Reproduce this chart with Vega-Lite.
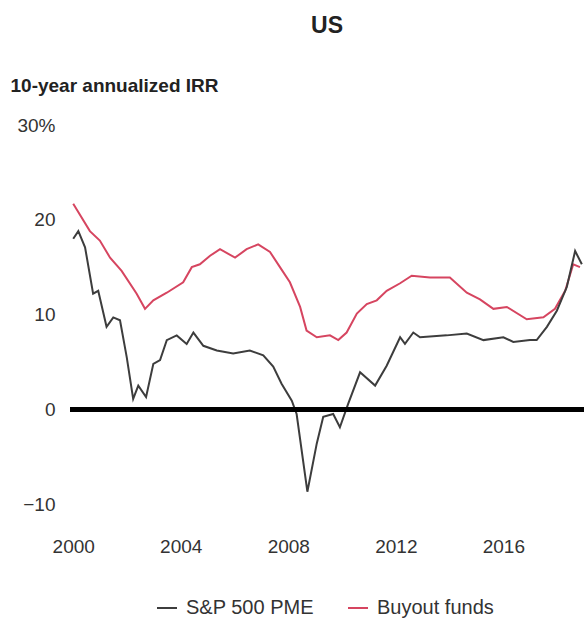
{
  "$schema": "https://vega.github.io/schema/vega-lite/v6.json",
  "width": 514,
  "height": 398,
  "autosize": {"type": "none"},
  "padding": {"left": 70, "top": 125, "right": 0, "bottom": 104},
  "background": "white",
  "title": {"text": "US", "anchor": "middle", "fontSize": 23, "fontWeight": "bold", "font": "Liberation Sans", "color": "#222222", "offset": 38},
  "config": {"view": {"stroke": null}, "font": "Liberation Sans"},
  "data": {"values": [
    {"series": "Buyout funds", "year": 2000.0, "irr": 21.7},
    {"series": "Buyout funds", "year": 2000.62, "irr": 18.8},
    {"series": "Buyout funds", "year": 2000.99, "irr": 17.8},
    {"series": "Buyout funds", "year": 2001.37, "irr": 16.0},
    {"series": "Buyout funds", "year": 2001.8, "irr": 14.6},
    {"series": "Buyout funds", "year": 2002.36, "irr": 12.2},
    {"series": "Buyout funds", "year": 2002.67, "irr": 10.6},
    {"series": "Buyout funds", "year": 2002.98, "irr": 11.5},
    {"series": "Buyout funds", "year": 2003.48, "irr": 12.3},
    {"series": "Buyout funds", "year": 2004.09, "irr": 13.4},
    {"series": "Buyout funds", "year": 2004.41, "irr": 15.0},
    {"series": "Buyout funds", "year": 2004.71, "irr": 15.3},
    {"series": "Buyout funds", "year": 2005.09, "irr": 16.2},
    {"series": "Buyout funds", "year": 2005.46, "irr": 16.9},
    {"series": "Buyout funds", "year": 2006.02, "irr": 16.0},
    {"series": "Buyout funds", "year": 2006.45, "irr": 16.9},
    {"series": "Buyout funds", "year": 2006.88, "irr": 17.4},
    {"series": "Buyout funds", "year": 2007.32, "irr": 16.6},
    {"series": "Buyout funds", "year": 2007.69, "irr": 15.0},
    {"series": "Buyout funds", "year": 2008.06, "irr": 13.4},
    {"series": "Buyout funds", "year": 2008.44, "irr": 10.8},
    {"series": "Buyout funds", "year": 2008.68, "irr": 8.3},
    {"series": "Buyout funds", "year": 2009.06, "irr": 7.6},
    {"series": "Buyout funds", "year": 2009.55, "irr": 7.8},
    {"series": "Buyout funds", "year": 2009.86, "irr": 7.3},
    {"series": "Buyout funds", "year": 2010.17, "irr": 8.1},
    {"series": "Buyout funds", "year": 2010.55, "irr": 10.1},
    {"series": "Buyout funds", "year": 2010.92, "irr": 11.1},
    {"series": "Buyout funds", "year": 2011.29, "irr": 11.5},
    {"series": "Buyout funds", "year": 2011.66, "irr": 12.5},
    {"series": "Buyout funds", "year": 2012.16, "irr": 13.3},
    {"series": "Buyout funds", "year": 2012.59, "irr": 14.1},
    {"series": "Buyout funds", "year": 2013.27, "irr": 13.9},
    {"series": "Buyout funds", "year": 2014.01, "irr": 13.9},
    {"series": "Buyout funds", "year": 2014.64, "irr": 12.3},
    {"series": "Buyout funds", "year": 2015.13, "irr": 11.6},
    {"series": "Buyout funds", "year": 2015.63, "irr": 10.6},
    {"series": "Buyout funds", "year": 2016.13, "irr": 10.8},
    {"series": "Buyout funds", "year": 2016.87, "irr": 9.5},
    {"series": "Buyout funds", "year": 2017.49, "irr": 9.7},
    {"series": "Buyout funds", "year": 2017.92, "irr": 10.6},
    {"series": "Buyout funds", "year": 2018.3, "irr": 12.5},
    {"series": "Buyout funds", "year": 2018.6, "irr": 15.3},
    {"series": "Buyout funds", "year": 2018.85, "irr": 15.0},
    {"series": "S&P 500 PME", "year": 2000.0, "irr": 18.0},
    {"series": "S&P 500 PME", "year": 2000.19, "irr": 18.8},
    {"series": "S&P 500 PME", "year": 2000.44, "irr": 17.1},
    {"series": "S&P 500 PME", "year": 2000.74, "irr": 12.2},
    {"series": "S&P 500 PME", "year": 2000.93, "irr": 12.5},
    {"series": "S&P 500 PME", "year": 2001.24, "irr": 8.7},
    {"series": "S&P 500 PME", "year": 2001.49, "irr": 9.7},
    {"series": "S&P 500 PME", "year": 2001.74, "irr": 9.4},
    {"series": "S&P 500 PME", "year": 2001.99, "irr": 5.5},
    {"series": "S&P 500 PME", "year": 2002.23, "irr": 1.1},
    {"series": "S&P 500 PME", "year": 2002.42, "irr": 2.5},
    {"series": "S&P 500 PME", "year": 2002.71, "irr": 1.3},
    {"series": "S&P 500 PME", "year": 2002.98, "irr": 4.8},
    {"series": "S&P 500 PME", "year": 2003.23, "irr": 5.2},
    {"series": "S&P 500 PME", "year": 2003.48, "irr": 7.3},
    {"series": "S&P 500 PME", "year": 2003.85, "irr": 7.8},
    {"series": "S&P 500 PME", "year": 2004.22, "irr": 6.9},
    {"series": "S&P 500 PME", "year": 2004.47, "irr": 8.1},
    {"series": "S&P 500 PME", "year": 2004.84, "irr": 6.7},
    {"series": "S&P 500 PME", "year": 2005.34, "irr": 6.2},
    {"series": "S&P 500 PME", "year": 2005.95, "irr": 5.9},
    {"series": "S&P 500 PME", "year": 2006.57, "irr": 6.2},
    {"series": "S&P 500 PME", "year": 2007.07, "irr": 5.7},
    {"series": "S&P 500 PME", "year": 2007.44, "irr": 4.5},
    {"series": "S&P 500 PME", "year": 2007.75, "irr": 2.7},
    {"series": "S&P 500 PME", "year": 2008.13, "irr": 0.9},
    {"series": "S&P 500 PME", "year": 2008.31, "irr": -0.5},
    {"series": "S&P 500 PME", "year": 2008.71, "irr": -8.7},
    {"series": "S&P 500 PME", "year": 2009.06, "irr": -3.6},
    {"series": "S&P 500 PME", "year": 2009.3, "irr": -0.8},
    {"series": "S&P 500 PME", "year": 2009.67, "irr": -0.5},
    {"series": "S&P 500 PME", "year": 2009.92, "irr": -1.9},
    {"series": "S&P 500 PME", "year": 2010.23, "irr": 0.6},
    {"series": "S&P 500 PME", "year": 2010.67, "irr": 3.9},
    {"series": "S&P 500 PME", "year": 2011.23, "irr": 2.5},
    {"series": "S&P 500 PME", "year": 2011.66, "irr": 4.6},
    {"series": "S&P 500 PME", "year": 2012.16, "irr": 7.6},
    {"series": "S&P 500 PME", "year": 2012.34, "irr": 6.9},
    {"series": "S&P 500 PME", "year": 2012.65, "irr": 8.1},
    {"series": "S&P 500 PME", "year": 2012.9, "irr": 7.6},
    {"series": "S&P 500 PME", "year": 2013.89, "irr": 7.8},
    {"series": "S&P 500 PME", "year": 2014.64, "irr": 8.0},
    {"series": "S&P 500 PME", "year": 2015.26, "irr": 7.3},
    {"series": "S&P 500 PME", "year": 2016.0, "irr": 7.6},
    {"series": "S&P 500 PME", "year": 2016.37, "irr": 7.1},
    {"series": "S&P 500 PME", "year": 2016.99, "irr": 7.3},
    {"series": "S&P 500 PME", "year": 2017.24, "irr": 7.3},
    {"series": "S&P 500 PME", "year": 2017.62, "irr": 8.7},
    {"series": "S&P 500 PME", "year": 2017.99, "irr": 10.4},
    {"series": "S&P 500 PME", "year": 2018.36, "irr": 12.9},
    {"series": "S&P 500 PME", "year": 2018.67, "irr": 16.7},
    {"series": "S&P 500 PME", "year": 2018.92, "irr": 15.3}
  ]},
  "layer": [
    {
      "mark": {"type": "line", "strokeWidth": 2},
      "encoding": {
        "x": {"field": "year", "type": "quantitative", "scale": {"domain": [1999.88, 2019], "nice": false, "zero": false},
          "axis": {"values": [2000, 2004, 2008, 2012, 2016], "format": "d", "domain": false, "ticks": false, "grid": false, "labelFontSize": 19, "labelColor": "#333333", "labelPadding": 14, "title": null}},
        "y": {"field": "irr", "type": "quantitative", "scale": {"domain": [-12, 30], "nice": false},
          "axis": {"values": [-10, 0, 10, 20, 30], "labelExpr": "datum.value == 30 ? '30%' : datum.label", "domain": false, "ticks": false, "grid": false, "labelFontSize": 19, "labelColor": "#333333", "labelPadding": 15,
            "title": "10-year annualized IRR", "titleAngle": 0, "titleAlign": "left", "titleBaseline": "middle", "titleX": -60, "titleY": -40, "titleFontSize": 19, "titleFontWeight": "bold", "titleColor": "#222222"}},
        "color": {"field": "series", "type": "nominal",
          "scale": {"domain": ["S&P 500 PME", "Buyout funds"], "range": ["#3d3d3d", "#d64560"]},
          "legend": {"orient": "none", "legendX": 86, "legendY": 472, "direction": "horizontal", "title": null, "symbolType": "stroke", "symbolStrokeWidth": 2, "symbolSize": 400, "labelFontSize": 20, "labelColor": "#333333", "columnPadding": 30, "labelOffset": 8}}
      }
    },
    {
      "mark": {"type": "rule", "strokeWidth": 4, "color": "#000000"},
      "encoding": {"y": {"datum": 0}}
    }
  ]
}
